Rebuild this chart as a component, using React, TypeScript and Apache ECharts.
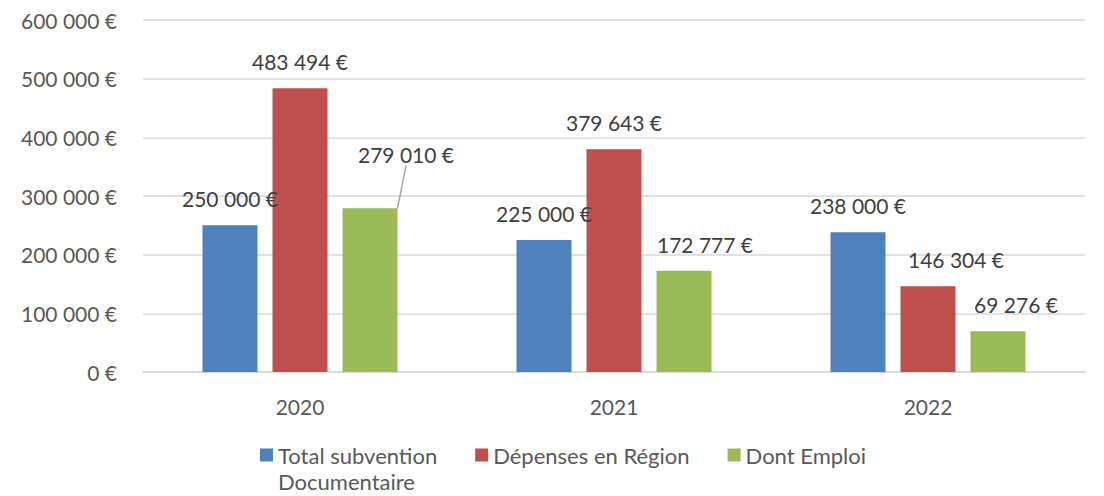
import React, { useEffect, useRef } from "react";
import * as echarts from "echarts";

const categories = ["2020", "2021", "2022"];
const totalSubvention = [250000, 225000, 238000];
const depensesRegion = [483494, 379643, 146304];
const dontEmploi = [279010, 172777, 69276];
const seriesNames = ["Total subvention\nDocumentaire", "Dépenses en Région", "Dont Emploi"];

const FONT = "Lato, 'Open Sans', sans-serif";

function fmt(v: number): string {
  const s = Math.round(v).toString().replace(/\B(?=(\d{3})+(?!\d))/g, " ");
  return s + " €";
}

export default function App() {
  const ref = useRef<HTMLDivElement>(null);
  useEffect(() => {
    document.body.style.margin = "0";
    if (!ref.current) return;
    const chart = echarts.init(ref.current, undefined, { renderer: "svg" });
    const labelBase = {
      show: true,
      position: "top",
      distance: 16,
      fontSize: 21,
      fontFamily: FONT,
      color: "#404040",
      formatter: (p: any) => fmt(p.value),
    };
    // label shifts (series-dataIndex) -> [dx, dy]
    const shifts: Record<string, [number, number]> = {
      "2-0": [36, -27],
      "2-1": [21, 0],
      "1-2": [28, 0],
      "2-2": [18, 0],
    };
    const layoutFor = (si: number) => (p: any) => {
      const s = shifts[si + "-" + p.dataIndex];
      return s ? { dx: s[0], dy: s[1] } : {};
    };
    const mk = (arr: number[], si: number) =>
      arr.map((v, i) => ({
        value: v,
        labelLine: { show: si === 2 && i === 0 },
      }));
    chart.setOption({
      animation: false,
      color: ["#4f81bd", "#c0504d", "#9bbb59"],
      grid: { left: 143, right: 19, top: 20, bottom: 124, containLabel: false },
      xAxis: {
        type: "category",
        data: categories,
        axisTick: { show: false },
        axisLine: { lineStyle: { color: "#d9d9d9", width: 1.5 } },
        axisLabel: { color: "#595959", fontSize: 21, fontFamily: FONT, margin: 24 },
      },
      yAxis: {
        type: "value",
        min: 0,
        max: 600000,
        interval: 100000,
        axisLine: { show: false },
        axisTick: { show: false },
        splitLine: { lineStyle: { color: "#d9d9d9", width: 1.5 } },
        axisLabel: {
          color: "#595959",
          fontSize: 21,
          fontFamily: FONT,
          margin: 26,
          formatter: (v: number) => fmt(v),
        },
      },
      legend: {
        left: 255,
        top: 411,
        itemWidth: 13,
        itemHeight: 13,
        itemGap: 38,
        icon: "rect",
        formatter: (name: string) => (name.indexOf("\n") >= 0 ? "\n" + name : name),
        textStyle: { color: "#595959", fontSize: 22, fontFamily: FONT, lineHeight: 26 },
        data: seriesNames,
      },
      series: [
        {
          name: seriesNames[0],
          type: "bar",
          barWidth: 55,
          barGap: "27.3%",
          data: mk(totalSubvention, 0),
          label: labelBase,
          labelLayout: layoutFor(0),
        },
        {
          name: seriesNames[1],
          type: "bar",
          barWidth: 55,
          barGap: "27.3%",
          data: mk(depensesRegion, 1),
          label: labelBase,
          labelLayout: layoutFor(1),
        },
        {
          name: seriesNames[2],
          type: "bar",
          barWidth: 55,
          barGap: "27.3%",
          data: mk(dontEmploi, 2),
          label: labelBase,
          labelLine: { show: false, lineStyle: { color: "#a6a6a6", width: 1.5 } },
          labelLayout: layoutFor(2),
        },
      ],
    });
    return () => chart.dispose();
  }, []);
  return <div ref={ref} style={{ width: 1104, height: 496 }} />;
}
